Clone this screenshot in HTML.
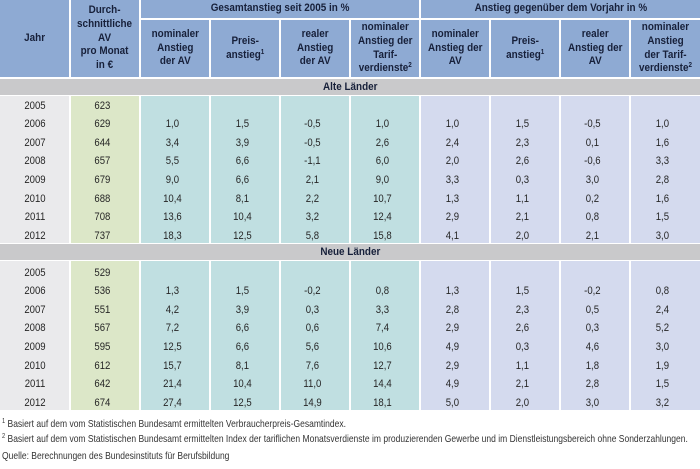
<!DOCTYPE html>
<html><head><meta charset="utf-8">
<style>
body{margin:0;width:700px;height:469px;background:#fff;position:relative;overflow:hidden;font-family:"Liberation Sans",sans-serif}
.a{position:absolute}
sup{font-size:7px;line-height:0;vertical-align:4px}
.h{position:absolute;background:#8eaad3;color:#17203a;font-weight:bold;font-size:11px;line-height:13.8px;display:flex;align-items:center;justify-content:center;text-align:center}
.h span{display:inline-block;transform:scaleX(.9)}
.band{position:absolute;left:0;width:700px;height:16px;background:#c9c9cb;color:#17203a;font-weight:bold;font-size:11px;line-height:16px;text-align:center}
.band span{display:inline-block;transform:scaleX(.9)}
.g{background:#eaeaec}.gr{background:#dce7c8}.t{background:#c0dfe1}.l{background:#d4daee}
.r{position:absolute;left:0;width:700px;height:18px;line-height:18px;display:flex;font-size:11px;color:#262626}
.r i{font-style:normal;width:70px;flex:none;box-sizing:border-box;text-align:center;transform:scaleX(.87)}
.r i+i{padding-right:6px}
.f{position:absolute;left:2px;font-size:10.5px;line-height:12px;color:#333;white-space:nowrap;transform-origin:0 50%;transform:scaleX(.81)}
</style></head><body>

<div class="h" style="left:0;top:0;width:69px;height:77px"><span>Jahr</span></div>
<div class="h" style="left:71px;top:0;width:68px;height:77px"><span>Durch-<br>schnittliche<br>AV<br>pro Monat<br>in €</span></div>
<div class="h" style="left:141px;top:0;width:278px;height:18px"><span>Gesamtanstieg seit 2005 in %</span></div>
<div class="h" style="left:421px;top:0;width:279px;height:18px"><span>Anstieg gegenüber dem Vorjahr in %</span></div>

<div class="h" style="left:141px;top:20px;width:68px;height:57px"><span>nominaler<br>Anstieg<br>der AV</span></div>
<div class="h" style="left:211px;top:20px;width:68px;height:57px"><span>Preis-<br>anstieg<sup>1</sup></span></div>
<div class="h" style="left:281px;top:20px;width:68px;height:57px"><span>realer<br>Anstieg<br>der AV</span></div>
<div class="h" style="left:351px;top:20px;width:68px;height:57px"><span>nominaler<br>Anstieg der<br>Tarif-<br>verdienste<sup>2</sup></span></div>
<div class="h" style="left:421px;top:20px;width:68px;height:57px"><span>nominaler<br>Anstieg der<br>AV</span></div>
<div class="h" style="left:491px;top:20px;width:68px;height:57px"><span>Preis-<br>anstieg<sup>1</sup></span></div>
<div class="h" style="left:561px;top:20px;width:68px;height:57px"><span>realer<br>Anstieg der<br>AV</span></div>
<div class="h" style="left:631px;top:20px;width:69px;height:57px"><span>nominaler<br>Anstieg<br>der Tarif-<br>verdienste<sup>2</sup></span></div>

<div class="band" style="top:79px"><span>Alte Länder</span></div>
<div class="band" style="top:244px"><span>Neue Länder</span></div>

<div class="a g" style="left:0;top:96px;width:69px;height:147px"></div>
<div class="a gr" style="left:71px;top:96px;width:68px;height:147px"></div>
<div class="a t" style="left:141px;top:96px;width:68px;height:147px"></div>
<div class="a t" style="left:211px;top:96px;width:68px;height:147px"></div>
<div class="a t" style="left:281px;top:96px;width:68px;height:147px"></div>
<div class="a t" style="left:351px;top:96px;width:68px;height:147px"></div>
<div class="a l" style="left:421px;top:96px;width:68px;height:147px"></div>
<div class="a l" style="left:491px;top:96px;width:68px;height:147px"></div>
<div class="a l" style="left:561px;top:96px;width:68px;height:147px"></div>
<div class="a l" style="left:631px;top:96px;width:69px;height:147px"></div>

<div class="a g" style="left:0;top:261px;width:69px;height:149px"></div>
<div class="a gr" style="left:71px;top:261px;width:68px;height:149px"></div>
<div class="a t" style="left:141px;top:261px;width:68px;height:149px"></div>
<div class="a t" style="left:211px;top:261px;width:68px;height:149px"></div>
<div class="a t" style="left:281px;top:261px;width:68px;height:149px"></div>
<div class="a t" style="left:351px;top:261px;width:68px;height:149px"></div>
<div class="a l" style="left:421px;top:261px;width:68px;height:149px"></div>
<div class="a l" style="left:491px;top:261px;width:68px;height:149px"></div>
<div class="a l" style="left:561px;top:261px;width:68px;height:149px"></div>
<div class="a l" style="left:631px;top:261px;width:69px;height:149px"></div>

<div class="r" style="top:96.5px"><i>2005</i><i>623</i><i></i><i></i><i></i><i></i><i></i><i></i><i></i><i></i></div>
<div class="r" style="top:115.1px"><i>2006</i><i>629</i><i>1,0</i><i>1,5</i><i>-0,5</i><i>1,0</i><i>1,0</i><i>1,5</i><i>-0,5</i><i>1,0</i></div>
<div class="r" style="top:133.7px"><i>2007</i><i>644</i><i>3,4</i><i>3,9</i><i>-0,5</i><i>2,6</i><i>2,4</i><i>2,3</i><i>0,1</i><i>1,6</i></div>
<div class="r" style="top:152.3px"><i>2008</i><i>657</i><i>5,5</i><i>6,6</i><i>-1,1</i><i>6,0</i><i>2,0</i><i>2,6</i><i>-0,6</i><i>3,3</i></div>
<div class="r" style="top:170.9px"><i>2009</i><i>679</i><i>9,0</i><i>6,6</i><i>2,1</i><i>9,0</i><i>3,3</i><i>0,3</i><i>3,0</i><i>2,8</i></div>
<div class="r" style="top:189.5px"><i>2010</i><i>688</i><i>10,4</i><i>8,1</i><i>2,2</i><i>10,7</i><i>1,3</i><i>1,1</i><i>0,2</i><i>1,6</i></div>
<div class="r" style="top:208.1px"><i>2011</i><i>708</i><i>13,6</i><i>10,4</i><i>3,2</i><i>12,4</i><i>2,9</i><i>2,1</i><i>0,8</i><i>1,5</i></div>
<div class="r" style="top:226.7px"><i>2012</i><i>737</i><i>18,3</i><i>12,5</i><i>5,8</i><i>15,8</i><i>4,1</i><i>2,0</i><i>2,1</i><i>3,0</i></div>

<div class="r" style="top:263.5px"><i>2005</i><i>529</i><i></i><i></i><i></i><i></i><i></i><i></i><i></i><i></i></div>
<div class="r" style="top:282.1px"><i>2006</i><i>536</i><i>1,3</i><i>1,5</i><i>-0,2</i><i>0,8</i><i>1,3</i><i>1,5</i><i>-0,2</i><i>0,8</i></div>
<div class="r" style="top:300.7px"><i>2007</i><i>551</i><i>4,2</i><i>3,9</i><i>0,3</i><i>3,3</i><i>2,8</i><i>2,3</i><i>0,5</i><i>2,4</i></div>
<div class="r" style="top:319.3px"><i>2008</i><i>567</i><i>7,2</i><i>6,6</i><i>0,6</i><i>7,4</i><i>2,9</i><i>2,6</i><i>0,3</i><i>5,2</i></div>
<div class="r" style="top:337.9px"><i>2009</i><i>595</i><i>12,5</i><i>6,6</i><i>5,6</i><i>10,6</i><i>4,9</i><i>0,3</i><i>4,6</i><i>3,0</i></div>
<div class="r" style="top:356.5px"><i>2010</i><i>612</i><i>15,7</i><i>8,1</i><i>7,6</i><i>12,7</i><i>2,9</i><i>1,1</i><i>1,8</i><i>1,9</i></div>
<div class="r" style="top:375.1px"><i>2011</i><i>642</i><i>21,4</i><i>10,4</i><i>11,0</i><i>14,4</i><i>4,9</i><i>2,1</i><i>2,8</i><i>1,5</i></div>
<div class="r" style="top:393.7px"><i>2012</i><i>674</i><i>27,4</i><i>12,5</i><i>14,9</i><i>18,1</i><i>5,0</i><i>2,0</i><i>3,0</i><i>3,2</i></div>

<div class="f" style="top:418px"><sup>1</sup> Basiert auf dem vom Statistischen Bundesamt ermittelten Verbraucherpreis-Gesamtindex.</div>
<div class="f" style="top:433px"><sup>2</sup> Basiert auf dem vom Statistischen Bundesamt ermittelten Index der tariflichen Monatsverdienste im produzierenden Gewerbe und im Dienstleistungsbereich ohne Sonderzahlungen.</div>
<div class="f" style="top:450px">Quelle: Berechnungen des Bundesinstituts für Berufsbildung</div>
</body></html>
